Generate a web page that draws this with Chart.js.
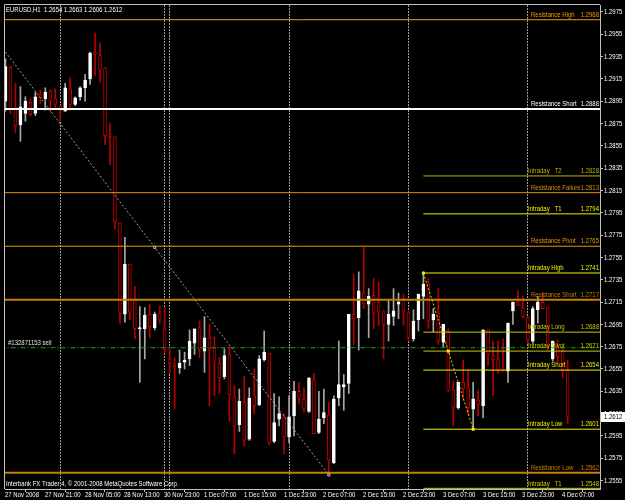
<!DOCTYPE html>
<html><head><meta charset="utf-8">
<script src="https://cdn.jsdelivr.net/npm/chart.js@4"></script>
<style>html,body{margin:0;padding:0;background:#000;}canvas{display:block;}</style>
</head><body>
<canvas id="c" width="625" height="500"></canvas>
<script>
// ---------- data (EURUSD H1, bar index 0 = 27 Nov 2008 13:00) ----------
const titleText = 'EURUSD,H1  1.2654 1.2663 1.2606 1.2612';
const footerText = 'Interbank FX Trader 4, \u00A9 2001-2008 MetaQuotes Software Corp.';
const opens = [1.2895,1.2925,1.2889,1.2874,1.2884,1.2894,1.2884,1.2901,1.2897,1.2904,1.2897,1.2891,1.2886,1.2906,1.2892,1.2899,1.2907,1.2915,1.2939,1.2936,
1.2925,1.2865,1.2863,1.2786,1.2704,1.2749,1.2717,1.2691,1.2691,1.2704,1.2692,1.2705,1.2691,1.2664,1.2659,1.2656,1.2661,1.2664,1.2678,1.2692,
1.2671,1.2683,1.2674,1.2660,1.2648,1.2668,1.2630,1.2605,1.2625,1.2592,1.2631,1.2623,1.2663,1.2669,1.2590,1.2610,1.2612,1.2594,1.2613,1.2635,
1.2628,1.2617,1.2645,1.2598,1.2611,1.2614,1.2571,1.2629,1.2639,1.2642,1.2704,1.2701,1.2723,1.2713,1.2721,1.2715,1.2707,1.2695,1.2702,1.2713,
1.2718,1.2706,1.2682,1.2699,1.2720,1.2732,1.2699,1.2705,1.2679,1.2689,1.2636,1.2620,1.2643,1.2638,1.2619,1.2627,1.2622,1.2690,1.2667,1.2664,
1.2655,1.2653,1.2707,1.2715,1.2710,1.2701,1.2680,1.2708,1.2715,1.2710,1.2664,1.2675,1.2671,1.2654];
const highs = [1.2933,1.2926,1.2911,1.2908,1.2899,1.2897,1.2903,1.2905,1.2907,1.2905,1.2906,1.2891,1.2911,1.2916,1.2899,1.2908,1.2919,1.2939,1.2956,1.2947,
1.2925,1.2875,1.2863,1.2786,1.2773,1.2749,1.2729,1.2711,1.2710,1.2713,1.2706,1.2711,1.2710,1.2674,1.2665,1.2672,1.2670,1.2690,1.2691,1.2698,
1.2702,1.2695,1.2684,1.2665,1.2673,1.2675,1.2640,1.2637,1.2648,1.2638,1.2655,1.2667,1.2689,1.2669,1.2633,1.2630,1.2615,1.2631,1.2644,1.2643,
1.2638,1.2647,1.2651,1.2635,1.2637,1.2625,1.2631,1.2680,1.2650,1.2704,1.2740,1.2742,1.2764,1.2727,1.2736,1.2733,1.2707,1.2716,1.2727,1.2723,
1.2722,1.2707,1.2708,1.2722,1.2741,1.2736,1.2709,1.2727,1.2695,1.2691,1.2644,1.2643,1.2663,1.2654,1.2643,1.2636,1.2690,1.2690,1.2680,1.2680,
1.2682,1.2696,1.2715,1.2725,1.2720,1.2702,1.2711,1.2720,1.2723,1.2710,1.2680,1.2681,1.2673,1.2663];
const lows = [1.2886,1.2884,1.2867,1.2859,1.2877,1.2882,1.2882,1.2893,1.2887,1.2885,1.2888,1.2877,1.2886,1.2887,1.2891,1.2896,1.2895,1.2910,1.2918,1.2912,
1.2856,1.2838,1.2780,1.2696,1.2697,1.2699,1.2682,1.2643,1.2664,1.2683,1.2690,1.2696,1.2669,1.2651,1.2619,1.2651,1.2655,1.2658,1.2668,1.2665,
1.2652,1.2622,1.2631,1.2633,1.2646,1.2608,1.2579,1.2599,1.2586,1.2591,1.2615,1.2622,1.2662,1.2587,1.2589,1.2604,1.2579,1.2589,1.2595,1.2624,
1.2616,1.2616,1.2597,1.2597,1.2606,1.2560,1.2570,1.2622,1.2618,1.2633,1.2677,1.2672,1.2709,1.2683,1.2691,1.2694,1.2664,1.2680,1.2694,1.2700,
1.2694,1.2680,1.2680,1.2689,1.2700,1.2691,1.2688,1.2677,1.2675,1.2635,1.2604,1.2619,1.2627,1.2615,1.2601,1.2613,1.2611,1.2658,1.2631,1.2651,
1.2653,1.2643,1.2695,1.2712,1.2701,1.2678,1.2678,1.2696,1.2709,1.2674,1.2662,1.2660,1.2647,1.2606];
const closes = [1.2926,1.2888,1.2873,1.2890,1.2895,1.2883,1.2899,1.2898,1.2903,1.2895,1.2892,1.2887,1.2907,1.2892,1.2898,1.2907,1.2914,1.2938,1.2937,1.2923,
1.2864,1.2863,1.2787,1.2705,1.2749,1.2706,1.2691,1.2692,1.2703,1.2693,1.2704,1.2699,1.2672,1.2660,1.2657,1.2660,1.2663,1.2680,1.2691,1.2673,
1.2683,1.2673,1.2661,1.2647,1.2667,1.2632,1.2604,1.2626,1.2591,1.2629,1.2622,1.2664,1.2670,1.2589,1.2607,1.2615,1.2594,1.2612,1.2635,1.2629,
1.2619,1.2647,1.2597,1.2610,1.2616,1.2573,1.2628,1.2641,1.2641,1.2704,1.2700,1.2725,1.2714,1.2720,1.2705,1.2706,1.2695,1.2704,1.2707,1.2715,
1.2707,1.2683,1.2698,1.2722,1.2731,1.2698,1.2704,1.2680,1.2695,1.2636,1.2621,1.2643,1.2637,1.2620,1.2628,1.2623,1.2690,1.2668,1.2663,1.2653,
1.2653,1.2696,1.2715,1.2712,1.2702,1.2681,1.2709,1.2715,1.2709,1.2675,1.2680,1.2666,1.2654,1.2612];

const xTickIdx = [0,8,16,24,32,40,48,56,64,72,80,88,96,104,112];
const xTickLabels = ['27 Nov 2008','27 Nov 21:00','28 Nov 05:00','28 Nov 13:00','30 Nov 23:00','1 Dec 07:00','1 Dec 15:00','1 Dec 23:00',
  '2 Dec 07:00','2 Dec 15:00','2 Dec 23:00','3 Dec 07:00','3 Dec 15:00','3 Dec 23:00','4 Dec 07:00'];
const yTicks = [1.2975,1.2955,1.2935,1.2915,1.2895,1.2875,1.2855,1.2835,1.2815,1.2795,1.2775,1.2755,1.2735,1.2715,1.2695,1.2675,1.2655,1.2635,1.2615,1.2595,1.2575,1.2555];
const daySeparators = [11,32,33,57,81,105];

const resistanceNames = ['Resistance High','Resistance Short','Resistance Failure','Resistance Pivot','Resistance Short','Resistance Low'];
const resistanceValues = [1.2968,1.2888,1.2813,1.2765,1.2717,1.2562];
const intradayNames = ['Intraday   T2','Intraday   T1','Intraday High','Intraday Long','Intraday Pivot','Intraday Short','Intraday Low','Intraday   T1'];
const intradayValues = [1.2828,1.2794,1.2741,1.2688,1.2671,1.2654,1.2601,1.2548];
const intradayAnchor = 84;

const orderLabel = '#132871153 sell';
const orderPrice = 1.2674;
const trendIdx = [0,30,65];
const trendPrices = [1.2939,1.2764,1.2560];
const zigIdx = [84,89,94];
const zigPrices = [1.2741,1.2671,1.2601];
const lastPrice = 1.2612;

// ---------- styles ----------
const FONT = '8px "Liberation Sans",Arial,sans-serif';
const SX = 0.75; // horizontal squeeze to mimic the narrow terminal font
const resistanceStyles = [
  {color:'#F0A000', width:1},{color:'#FFFFFF', width:2},{color:'#E09000', width:1},
  {color:'#E89800', width:1},{color:'#C88000', width:2},{color:'#C88000', width:2}];
const intradayStyles = [
  {color:'#B4B400', width:1},{color:'#F0F000', width:1},{color:'#F0F000', width:1},{color:'#C8C800', width:1},
  {color:'#C8C800', width:1},{color:'#F0F000', width:1},{color:'#F0F000', width:1},{color:'#D0D000', width:1}];
const BULL_WICK = '#A8A8A8', BEAR = '#B80000';

const idx = opens.map((_, i) => i);
const isBull = idx.map(i => closes[i] >= opens[i]);
const X_END = 121;

const datasets = [];
datasets.push({
  type:'bar', order:5, grouped:false, barThickness:1, borderWidth:0,
  data: idx.map(i => ({x:i, y:[lows[i], highs[i]]})),
  backgroundColor: idx.map(i => isBull[i] ? BULL_WICK : BEAR)
});
datasets.push({
  type:'bar', order:4, grouped:false, barThickness:3, borderWidth:1, borderSkipped:false, minBarLength:1,
  data: idx.map(i => ({x:i, y:[opens[i], closes[i]]})),
  backgroundColor: idx.map(i => isBull[i] ? '#FFFFFF' : '#000000'),
  borderColor: idx.map(i => isBull[i] ? '#FFFFFF' : BEAR)
});
resistanceValues.forEach((v, k) => datasets.push({
  type:'line', order:3, data:[{x:-1, y:v},{x:X_END, y:v}],
  borderColor:resistanceStyles[k].color, borderWidth:resistanceStyles[k].width, pointRadius:0
}));
intradayValues.forEach((v, k) => datasets.push({
  type:'line', order:3, data:[{x:intradayAnchor, y:v},{x:X_END, y:v}],
  borderColor:intradayStyles[k].color, borderWidth:intradayStyles[k].width, pointRadius:0
}));
datasets.push({type:'line', order:3, data:[{x:-1,y:orderPrice},{x:X_END,y:orderPrice}],
  borderColor:'#1FA01F', borderWidth:1, borderDash:[5,2,1,2], pointRadius:0});
datasets.push({type:'line', order:2, data: trendIdx.map((x,k)=>({x, y:trendPrices[k]})),
  borderColor:'#A0A0A0', borderWidth:1, borderDash:[2,2],
  pointStyle:'rect', pointRadius: c => c.dataIndex === 0 ? 0 : 1.5,
  pointBackgroundColor:'#000', pointBorderColor:'#C0C0C0', pointBorderWidth:1});
datasets.push({type:'line', order:2, data: zigIdx.map((x,k)=>({x, y:zigPrices[k]})),
  borderColor:'#D8D800', borderWidth:1, borderDash:[2,2],
  pointStyle:'rect', pointRadius:1.5, pointBackgroundColor:'#F0F000', pointBorderColor:'#F0F000', pointBorderWidth:1});

function txt(ctx, s, x, y, align, baseline, color) {
  ctx.save();
  ctx.font = FONT; ctx.fillStyle = color; ctx.textBaseline = baseline; ctx.textAlign = 'left';
  const w = ctx.measureText(s).width * SX;
  const x0 = align === 'right' ? x - w : (align === 'center' ? x - w / 2 : x);
  ctx.translate(x0, y); ctx.scale(SX, 1); ctx.fillText(s, 0, 0);
  ctx.restore();
}

const overlay = {
  id:'overlay',
  beforeDraw(chart){
    const {ctx, width, height} = chart;
    ctx.save(); ctx.fillStyle = '#000'; ctx.fillRect(0,0,width,height); ctx.restore();
  },
  beforeDatasetsDraw(chart){
    const {ctx, chartArea:a, scales:{x}} = chart;
    ctx.save(); ctx.strokeStyle = '#A0A0A0'; ctx.lineWidth = 1; ctx.setLineDash([2,1]);
    daySeparators.forEach(i => {
      const px = Math.floor(x.getPixelForValue(i)) + 0.5;
      ctx.beginPath(); ctx.moveTo(px, a.top); ctx.lineTo(px, a.bottom); ctx.stroke();
    });
    ctx.restore();
  },
  afterDatasetsDraw(chart){
    const {ctx, chartArea:a, scales:{y}} = chart;
    resistanceValues.forEach((v, k) => {
      const py = y.getPixelForValue(v) - 1;
      txt(ctx, resistanceNames[k], a.right - 69, py, 'left', 'bottom', resistanceStyles[k].color);
      txt(ctx, v.toFixed(4), a.right - 1, py, 'right', 'bottom', resistanceStyles[k].color);
    });
    intradayValues.forEach((v, k) => {
      const py = Math.min(y.getPixelForValue(v) - 1, a.bottom - 1);
      txt(ctx, intradayNames[k], a.right - 72, py, 'left', 'bottom', intradayStyles[k].color);
      txt(ctx, v.toFixed(4), a.right - 1, py, 'right', 'bottom', intradayStyles[k].color);
    });
    txt(ctx, orderLabel, a.left + 3, y.getPixelForValue(orderPrice) - 1, 'left', 'bottom', '#E0E0E0');
    txt(ctx, titleText, a.left + 1, a.top + 1, 'left', 'top', '#FFFFFF');
    txt(ctx, footerText, a.left + 1, a.bottom - 1, 'left', 'bottom', '#FFFFFF');
  },
  afterDraw(chart){
    const {ctx, chartArea:a, scales:{x, y}} = chart;
    ctx.save();
    ctx.strokeStyle = '#C0C0C0'; ctx.lineWidth = 1;
    ctx.beginPath(); ctx.moveTo(a.left - 0.5, a.bottom); ctx.lineTo(a.left - 0.5, a.top - 0.5); ctx.lineTo(a.right, a.top - 0.5); ctx.stroke();
    ctx.restore();
    // axis labels
    x.ticks.forEach((t, i) => txt(ctx, xTickLabels[i], Math.floor(x.getPixelForValue(t.value)), a.bottom + 2, 'left', 'top', '#FFFFFF'));
    y.ticks.forEach(t => txt(ctx, t.value.toFixed(4), a.right + 4, y.getPixelForValue(t.value), 'left', 'middle', '#FFFFFF'));
    // current price marker
    const py = Math.round(y.getPixelForValue(lastPrice));
    ctx.save(); ctx.fillStyle = '#FFFFFF'; ctx.fillRect(a.right + 1, py - 5, 24, 10); ctx.restore();
    txt(ctx, lastPrice.toFixed(4), a.right + 4, py, 'left', 'middle', '#000000');
  }
};

new Chart(document.getElementById('c'), {
  type:'bar',
  data:{ datasets },
  options:{
    responsive:false, animation:false, devicePixelRatio:1,
    layout:{ padding:{left:2, top:1, right:0, bottom:0} },
    plugins:{ legend:{display:false}, tooltip:{enabled:false} },
    scales:{
      x:{
        type:'linear', min:-0.1, max:119.5, bounds:'data', offset:false,
        afterBuildTicks: s => { s.ticks = xTickIdx.map(v => ({value:v})); },
        afterFit: s => { s.height = 11; },
        ticks:{ display:false, autoSkip:false, maxRotation:0, minRotation:0 },
        grid:{ drawOnChartArea:false, drawTicks:true, tickLength:3, color:'#C0C0C0' },
        border:{ display:true, color:'#C0C0C0' }
      },
      y:{
        position:'right', min:1.25474, max:1.29812, bounds:'data',
        afterBuildTicks: s => { s.ticks = yTicks.map(v => ({value:v})); },
        afterFit: s => { s.width = 25; },
        ticks:{ display:false },
        grid:{ drawOnChartArea:false, drawTicks:true, tickLength:3, color:'#C0C0C0' },
        border:{ display:true, color:'#C0C0C0' }
      }
    }
  },
  plugins:[overlay]
});
</script>
</body></html>
